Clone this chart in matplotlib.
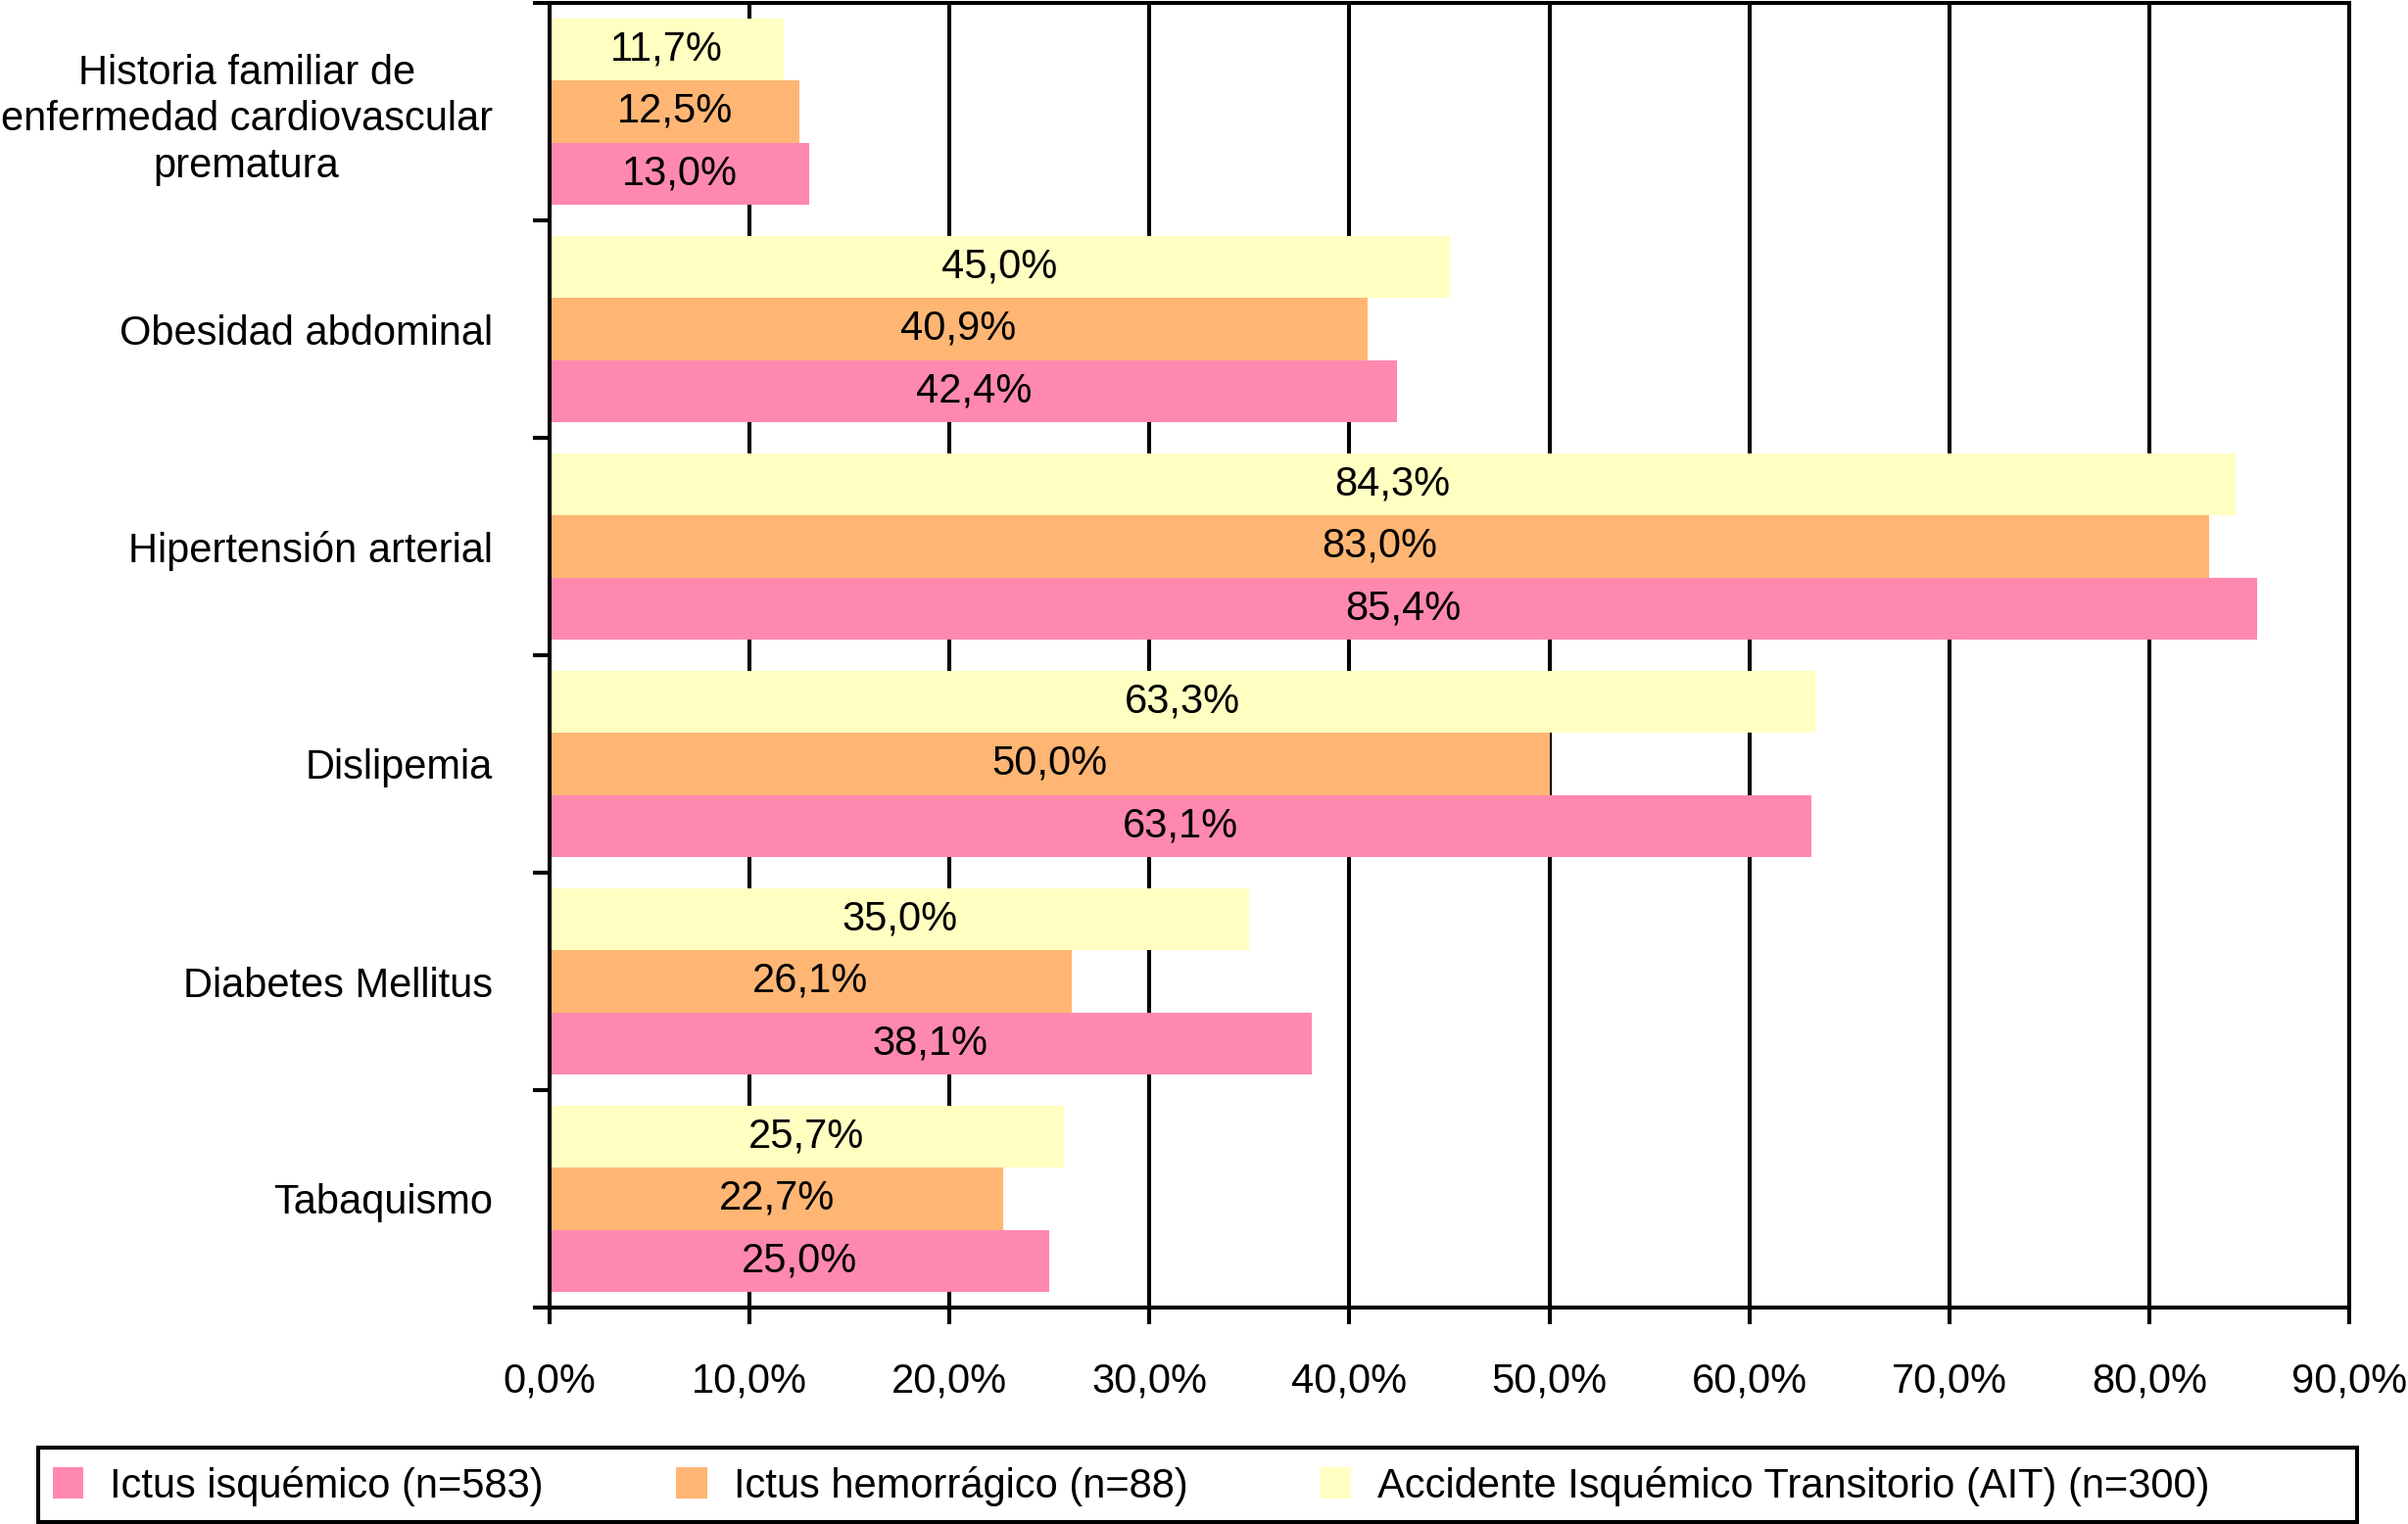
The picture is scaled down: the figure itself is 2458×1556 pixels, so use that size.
import numpy as np
import matplotlib
matplotlib.use("Agg")
import matplotlib.pyplot as plt
from matplotlib.patches import Rectangle

plt.rcParams['font.family'] = ['Liberation Sans', 'DejaVu Sans']

categorias = ['Historia familiar de\nenfermedad cardiovascular\nprematura',
              'Obesidad abdominal',
              'Hipertensión arterial',
              'Dislipemia',
              'Diabetes Mellitus',
              'Tabaquismo']
isquemico = [13.0, 42.4, 85.4, 63.1, 38.1, 25.0]
hemorragico = [12.5, 40.9, 83.0, 50.0, 26.1, 22.7]
ait = [11.7, 45.0, 84.3, 63.3, 35.0, 25.7]
series_nombres = ['Ictus isquémico (n=583)',
                  'Ictus hemorrágico (n=88)',
                  'Accidente Isquémico Transitorio (AIT) (n=300)']
xticks = [0, 10, 20, 30, 40, 50, 60, 70, 80, 90]

colores = ['#FF88AF', '#FFB674', '#FFFFC2']
W, H = 2458, 1556
fs = 30
lw = 2.9

fig = plt.figure(figsize=(W / 100, H / 100), dpi=100)
ax = fig.add_axes([561 / W, 1 - 1335 / H, (2398 - 561) / W, (1335 - 3) / H])

y = np.arange(len(categorias))
h = 0.286
series = [isquemico, hemorragico, ait]
offsets = [h, 0, -h]
for vals, off, col, nom in zip(series, offsets, colores, series_nombres):
    bars = ax.barh(y + off, vals, height=h, color=col, label=nom, zorder=2)
    for b, v in zip(bars, vals):
        ax.text(v / 2, b.get_y() + h / 2, f'{v:.1f}%'.replace('.', ','),
                ha='center', va='center', fontsize=fs, zorder=3)

ax.set_xlim(0, 90)
ax.set_ylim(len(categorias) - 0.5, -0.5)
ax.set_xticks(xticks)
ax.set_xticklabels([f'{t:.1f}%'.replace('.', ',') for t in xticks], fontsize=fs)
ax.set_yticks(y)
ax.set_yticklabels(categorias, fontsize=fs, multialignment='center', linespacing=1.25)
ax.set_yticks(np.arange(-0.5, len(categorias)), minor=True)

ax.tick_params(axis='y', which='major', length=0, pad=42)
ax.tick_params(axis='y', which='minor', length=12, width=lw, direction='out')
ax.tick_params(axis='x', which='major', length=12, width=lw, direction='out', pad=28)

ax.grid(axis='x', color='black', linewidth=lw)
ax.set_axisbelow(True)
for s in ['left', 'bottom', 'top', 'right']:
    ax.spines[s].set_linewidth(lw)

# marco de la leyenda
fig.patches.append(Rectangle((39 / W, 1 - 1554 / H), (2406 - 39) / W, (1554 - 1478) / H,
                             transform=fig.transFigure, fill=False, edgecolor='black',
                             linewidth=lw))
handles, labels = ax.get_legend_handles_labels()
fig.legend(handles, labels, ncol=3, frameon=False, fontsize=fs,
           loc='center left', bbox_to_anchor=(54 / W, 1 - 1517 / H),
           borderpad=0, borderaxespad=0, handlelength=0.75, handleheight=0.8,
           handletextpad=0.65, columnspacing=3.25)

fig.savefig('out.png', dpi=100)
